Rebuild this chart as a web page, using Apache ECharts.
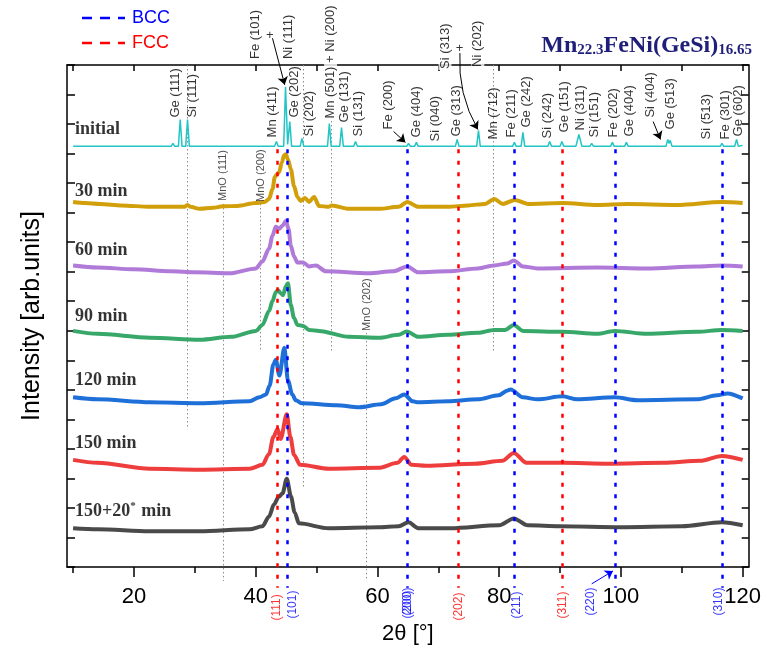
<!DOCTYPE html>
<html>
<head>
<meta charset="utf-8">
<script src="https://cdn.jsdelivr.net/npm/echarts@6/dist/echarts.min.js"></script>
<style>
html, body { margin: 0; padding: 0; background: #fff; }
#chart { width: 764px; height: 650px; }
</style>
</head>
<body>
<div id="chart"></div>
<script>
// XRD patterns, [2theta, intensity above the pattern's own baseline] (arb. units)
const patternNames = ['initial', '30 min', '60 min', '90 min', '120 min', '150 min', '150+20* min'];
const patternOffsets = [424, 363, 299, 233, 166, 100, 36];

const initial = [[10,0],[26.1,0],[26.4,3],[26.7,0],[27.3,0],[27.6,27],[27.9,0],[28.5,0],[28.8,27],[29.1,0],
  [43.1,0],[43.4,5],[43.7,0],[44.6,0],[44.9,60],[45.25,2],[45.6,25],[45.9,0],[47.3,0],[47.6,8],[47.9,0],
  [51.8,0],[52.1,23],[52.4,0],[53.8,0],[54.1,19],[54.4,0],[56.1,0],[56.4,5],[56.7,0],[64.8,0],[65.1,3],[65.4,0],
  [66.1,0],[66.4,4],[66.7,0],[72.8,0],[73.1,7],[73.4,0],[76.3,0],[76.6,16],[76.9,0],[82.2,0],[82.5,4],[82.8,0],
  [83.6,0],[83.9,14],[84.2,0],[88.0,0],[88.3,5],[88.6,0],[90.0,0],[90.3,5],[90.6,0],[92.6,0],[93.1,12],[93.6,0],
  [94.9,0],[95.2,3],[95.5,0],[98.3,0],[98.6,4],[98.9,0],[100.6,0],[100.9,4],[101.2,0],[106.1,0],[106.4,2],[106.7,0],
  [107.4,0],[107.7,7],[107.9,3],[108.1,6],[108.4,0],[113.8,0],[114.1,2],[114.4,0],[116.3,0],[116.6,3],[116.9,0],
  [118.7,0],[119.0,7],[119.3,0],[120,1]];

const min30 = [[10,5],[12,4],[14.4,3],[18,1.5],[22.6,0],[26,0],[28.3,0],[28.8,2],[29.3,0],[30.8,-2],[33,-1],
  [34.6,0.5],[37,1],[40,4],[41.5,5],[42.2,8],[42.76,18],[43.15,30],[43.48,33],[43.86,35],[44.3,45],[44.67,52],
  [44.95,53],[45.3,48],[45.77,38],[46.3,21],[46.85,10],[47.4,6],[48.1,9],[48.76,5],[49.6,10],[50.4,1],[52.0,0],
  [52.5,1.5],[55.3,-2],[60.2,-2],[63.5,0],[64.9,5],[66.7,0],[71.6,0],[74.9,1.5],[77.7,3],[79.2,8],[80.6,3],
  [82.6,7],[84.7,3],[90.4,4],[96.1,2],[101,3],[109.2,2],[116.7,5],[120,4]];

const min60 = [[10,5],[14,3],[20,1],[26,-1],[30,-2],[35.7,-3],[40.05,2],[41.1,9],[42.2,22],[42.76,35],[43.3,44],
  [43.86,42],[44.4,45],[44.95,50],[45.4,42],[45.77,25],[46.3,14],[46.85,8],[47.8,8],[48.76,4],[49.9,5],[51.5,-1],
  [58.6,-3],[62.6,-1],[64.9,4],[66.7,-2],[71.6,-1],[76.5,2],[79.2,5],[81.4,7],[82.4,10],[83.9,4],[86.3,2],
  [96.1,3],[104.3,2],[112.5,4],[116.6,5],[120,4]];

const min90 = [[10,5],[14,2],[22.6,-2],[30.8,-4],[36,-1],[40.05,5],[41.1,11],[42.2,25],[42.76,35],[43.3,44],
  [43.65,46],[44.1,43],[44.5,41],[44.95,50],[45.3,53],[45.77,31],[46.3,18],[46.85,11],[47.8,10],[48.76,6],
  [50.4,5],[55.3,-1],[60.2,-2],[63.5,1],[64.8,4.5],[66.7,-1],[71.6,1],[76.5,3],[79.2,6],[81.0,6],[82.4,11],
  [83.9,5],[90.4,4],[96.1,2],[99.0,5],[104.3,2],[112.5,4],[116.6,6],[120,5]];

const min120 = [[10,5],[14,3],[22.6,0],[30.8,-1],[39,1],[40.6,5],[41.7,8],[42.3,17],[42.9,38],[43.3,43],
  [43.9,27],[44.7,55],[45.3,22],[46.0,8],[46.6,2],[47.6,-1],[53.3,-3],[57.0,-5],[60.6,-2],[63.0,4],[64.4,8],
  [65.8,1],[66.7,0],[71.6,1],[76.5,3],[79.9,7],[81.4,12],[81.9,13],[83.9,5],[86.3,3],[90.4,6],[92.8,3],
  [99.0,5],[102.7,2],[112.5,3],[115.8,7],[117.5,9],[120,4]];

const min150 = [[10,8],[14,5],[22.6,-1],[30.8,-2],[39,-1],[41.1,3],[42.2,14],[42.9,31],[43.6,39],[44.1,29],
  [45.1,54],[45.7,31],[46.3,13],[47.3,3],[52,-1],[60.2,0],[63.3,5],[64.4,11],[65.6,3],[68,2],[76,4],[80.5,7],
  [82.4,15],[84.5,5],[90.4,5],[98,4],[107,5],[113,7],[116.6,12],[120,8]];

const min150p20 = [[10,3],[14,2],[22.6,0],[30.8,0],[39,2],[41.1,5],[42.2,15],[43.0,27],[43.8,35],[44.4,38],
  [45.1,53],[45.8,35],[46.4,19],[47.1,8],[52,3],[60.2,4],[63.5,5],[65.1,9],[66.7,3],[72,3],[80,6],[82.4,13],
  [84.7,6],[90,5],[100,4],[110,5],[116.6,9],[120,6]];

const patterns = [initial, min30, min60, min90, min120, min150, min150p20];
const patternColors = ['#22c5c5', '#d19f0a', '#b07ad8', '#38a86a', '#1f6fd9', '#ee3d3d', '#4a4a4a'];

// reference reflections
const fccPos = [43.6, 73.3, 90.4];
const bccPos = [45.2, 64.9, 82.4, 99.0, 116.7];

// x ticks
const xMajor = [20, 40, 60, 80, 100, 120];
const xMinor = [10, 30, 50, 70, 90, 110];
const xTop = [10, 20, 30, 40, 50, 60, 70, 80, 90, 100, 110, 120];

// annotations: [text, 2theta, y]
const peakLabels = [
  ['Fe (101)', 39.9, 512], ['Ni (111)', 45.3, 512],
  ['Ge (111)', 26.75, 453], ['Si (111)', 29.6, 453], ['Mn (411)', 42.8, 433], ['Ge (202)', 46.3, 453],
  ['Si (202)', 48.9, 434], ['Mn (501) + Ni (200)', 52.3, 451], ['Ge (131)', 54.5, 448], ['Si (131)', 56.9, 434],
  ['Fe (200)', 61.8, 441], ['Ge (404)', 66.4, 433], ['Si (040)', 69.5, 429], ['Ge (313)', 73.0, 434],
  ['Si (313)', 71.1, 501], ['Ni (202)', 76.5, 503], ['Mn (712)', 79.0, 431], ['Fe (211)', 82.0, 433],
  ['Ge (242)', 84.4, 443], ['Si (242)', 88.0, 432], ['Ge (151)', 90.7, 438], ['Ni (311)', 93.3, 440],
  ['Si (151)', 95.6, 433], ['Fe (202)', 98.8, 433], ['Ge (404)', 101.4, 434], ['Si (404)', 104.8, 453],
  ['Ge (513)', 108.1, 441], ['Si (513)', 114.1, 431], ['Fe (301)', 117.1, 431], ['Ge (602)', 119.3, 434]
];
const masked = ['Mn (501) + Ni (200)', 'Si (313)', 'Ni (202)'];
const plusSigns = [[42.3, 536], [73.5, 523]];
const mnoLabels = [['MnO (111)', 34.6, 369], ['MnO (200)', 40.85, 368], ['MnO (202)', 58.2, 238]];
const refLabels = [
  ['(111)', 43.45, -54, '#ff0000'], ['(101)', 46.14, -52, '#0000ff'], ['(200)', 64.93, -49, '#0000ff'],
  ['(200)', 64.93, -52, '#0000ff'], ['(202)', 73.27, -54, '#ff0000'], ['(211)', 82.9, -52, '#0000ff'],
  ['(311)', 90.4, -52, '#ff0000'], ['(220)', 95.0, -49, '#0000ff'], ['(310)', 116.1, -49, '#0000ff']
];
const patternLabelPos = [441, 379, 319, 253, 188, 125, 56];
// gray guide lines: [2theta, from, to]
const guides = [[28.8, 506, 139], [34.6, 366, -14], [40.75, 366, 219], [47.8, 506, 79],
  [52.47, 506, 218], [58.1, 236, -14], [79.1, 506, 218]];
const arrows = [
  [[42.76, 533], [44.77, 486], 0, '#000'],
  [[62.65, 439], [64.6, 428], 0, '#000'],
  [[73.55, 518], [76.5, 441], -0.15, '#000'],
  [[105.3, 449], [106.5, 431], 0, '#000'],
  [[95.2, -17], [98.7, -4], 0, '#0000ff']
];

const refTop = 421, refBottom = -21;
const sans = 'Liberation Sans, Arial, sans-serif';
const serif = 'Liberation Serif, Times New Roman, serif';

const chart = echarts.init(document.getElementById('chart'));
const series = [];

series.push({
  type: 'lines', coordinateSystem: 'cartesian2d', clip: false, silent: true, z: 1,
  lineStyle: { color: '#8c8c8c', width: 1, type: [1.5, 2.5], opacity: 1 },
  data: guides.map(g => ({ coords: [[g[0], g[1]], [g[0], g[2]]] }))
});

patterns.forEach((pts, i) => {
  series.push({
    type: 'line', name: patternNames[i], z: 3,
    data: pts.map(p => [p[0], p[1] + patternOffsets[i]]),
    showSymbol: false, symbol: 'none',
    smooth: i === 0 ? false : 0.3, smoothMonotone: 'x',
    lineStyle: { color: patternColors[i], width: i === 0 ? 1.5 : 4 }
  });
});

series.push({
  type: 'lines', coordinateSystem: 'cartesian2d', clip: false, silent: true, z: 4,
  lineStyle: { color: '#ff0000', width: 2.5, type: [4, 7.5], opacity: 1 },
  data: fccPos.map(p => ({ coords: [[p, refTop], [p, refBottom]] }))
});
series.push({
  type: 'lines', coordinateSystem: 'cartesian2d', clip: false, silent: true, z: 4,
  lineStyle: { color: '#0000ff', width: 2.5, type: [4, 7.5], opacity: 1 },
  data: bccPos.map(p => ({ coords: [[p, refTop], [p, refBottom]] }))
});

series.push({
  type: 'lines', coordinateSystem: 'cartesian2d', clip: false, silent: true, z: 6,
  symbol: ['none', 'arrow'], symbolSize: 8,
  lineStyle: { width: 1, opacity: 1 },
  data: arrows.map(a => ({ coords: [a[0], a[1]], lineStyle: { color: a[3], curveness: a[2] } }))
});

const labelBase = {
  type: 'scatter', symbolSize: 0, clip: false, silent: true, z: 5,
  itemStyle: { color: 'rgba(0,0,0,0)' }
};

series.push(Object.assign({}, labelBase, {
  data: peakLabels.map(l => ({
    value: [l[1], l[2]], name: l[0],
    label: masked.includes(l[0]) ? { backgroundColor: '#fff', padding: [0, 1] } : {}
  })),
  label: {
    show: true, formatter: '{b}', position: 'inside', rotate: 90, align: 'left', verticalAlign: 'middle',
    fontSize: 13, fontFamily: sans, color: '#000'
  }
}));

series.push(Object.assign({}, labelBase, {
  data: plusSigns.map(p => ({ value: p, name: '+' })),
  label: { show: true, formatter: '{b}', position: 'inside', align: 'center', verticalAlign: 'middle',
    fontSize: 13, fontFamily: sans, color: '#000' }
}));

series.push(Object.assign({}, labelBase, {
  data: mnoLabels.map(l => ({ value: [l[1], l[2]], name: l[0] })),
  label: { show: true, formatter: '{b}', position: 'inside', rotate: 90, align: 'left', verticalAlign: 'middle',
    fontSize: 11, fontFamily: sans, color: '#222' }
}));

series.push(Object.assign({}, labelBase, {
  data: refLabels.map(l => ({ value: [l[1], l[2]], name: l[0], label: { color: l[3] } })),
  label: { show: true, formatter: '{b}', position: 'inside', rotate: 90, align: 'left', verticalAlign: 'middle',
    fontSize: 12, fontFamily: sans }
}));

series.push(Object.assign({}, labelBase, {
  data: patternNames.map((n, i) => ({ value: [10.3, patternLabelPos[i]], name: n })),
  label: {
    show: true, position: 'inside', align: 'left', verticalAlign: 'middle',
    formatter: p => p.name.indexOf('*') > -1 ? '{t|150+20}{s|*}{t| min}' : '{t|' + p.name + '}',
    rich: {
      t: { fontSize: 18, fontWeight: 'bold', fontFamily: serif, color: '#000', lineHeight: 20 },
      s: { fontSize: 11, fontWeight: 'bold', fontFamily: serif, color: '#000', padding: [0, 1, 10, 0] }
    }
  }
}));

const axisLine = { show: true, onZero: false, lineStyle: { color: '#000', width: 1.5 } };

chart.setOption({
  animation: false,
  backgroundColor: '#fff',
  grid: { left: 67, right: 11, top: 65, bottom: 79, containLabel: false },
  xAxis: [
    {
      type: 'value', min: 9, max: 121, position: 'bottom',
      axisLine: axisLine,
      axisTick: { show: true, customValues: xMajor, length: 10, lineStyle: { color: '#000', width: 1.5 } },
      axisLabel: { show: true, customValues: xMajor, fontSize: 22, fontFamily: sans, color: '#000', margin: 19 },
      splitLine: { show: false },
      name: '2θ [°]', nameLocation: 'middle', nameGap: 56,
      nameTextStyle: { fontSize: 22, fontFamily: sans, color: '#000' }
    },
    {
      type: 'value', min: 9, max: 121, position: 'bottom',
      axisLine: { show: false },
      axisTick: { show: true, customValues: xMinor, length: 6, lineStyle: { color: '#000', width: 1.5 } },
      axisLabel: { show: false }, splitLine: { show: false }
    },
    {
      type: 'value', min: 9, max: 121, position: 'top',
      axisLine: axisLine,
      axisTick: { show: true, customValues: xTop, inside: true, length: 6, lineStyle: { color: '#000', width: 1.5 } },
      axisLabel: { show: false }, splitLine: { show: false }
    }
  ],
  yAxis: [
    {
      type: 'value', min: 0, max: 506, interval: 506 / 17, position: 'left',
      axisLine: axisLine,
      axisTick: { show: true, inside: true, length: 8, lineStyle: { color: '#000', width: 1.5 } },
      axisLabel: { show: false }, splitLine: { show: false },
      name: 'Intensity [arb.units]', nameLocation: 'middle', nameGap: 22, nameRotate: 90,
      nameTextStyle: { fontSize: 25, fontFamily: sans, color: '#000' }
    },
    {
      type: 'value', min: 0, max: 506, interval: 506 / 17, position: 'right',
      axisLine: axisLine,
      axisTick: { show: true, inside: true, length: 7, lineStyle: { color: '#000', width: 1.5 } },
      axisLabel: { show: false }, splitLine: { show: false }
    }
  ],
  graphic: [
    { type: 'line', shape: { x1: 82, y1: 18, x2: 125, y2: 18 }, style: { stroke: '#0000ff', lineWidth: 2.5, lineDash: [10, 8] } },
    { type: 'text', x: 132, y: 18, style: { text: 'BCC', fill: '#0000ff', font: '18px ' + sans, verticalAlign: 'middle' } },
    { type: 'line', shape: { x1: 82, y1: 43, x2: 125, y2: 43 }, style: { stroke: '#ff0000', lineWidth: 2.5, lineDash: [10, 8] } },
    { type: 'text', x: 132, y: 43, style: { text: 'FCC', fill: '#ff0000', font: '18px ' + sans, verticalAlign: 'middle' } },
    {
      type: 'text', right: 12, top: 26,
      style: {
        text: '{m|Mn}{s|22.3}{m|FeNi(GeSi)}{s|16.65}',
        fill: '#1f1f7a',
        rich: {
          m: { fontSize: 24, fontWeight: 'bold', fontFamily: serif, fill: '#1f1f7a', lineHeight: 24, verticalAlign: 'top' },
          s: { fontSize: 15, fontWeight: 'bold', fontFamily: serif, fill: '#1f1f7a', lineHeight: 15, verticalAlign: 'bottom', padding: [17, 0, 0, 0] }
        }
      }
    }
  ],
  series: series
});
</script>
</body>
</html>
